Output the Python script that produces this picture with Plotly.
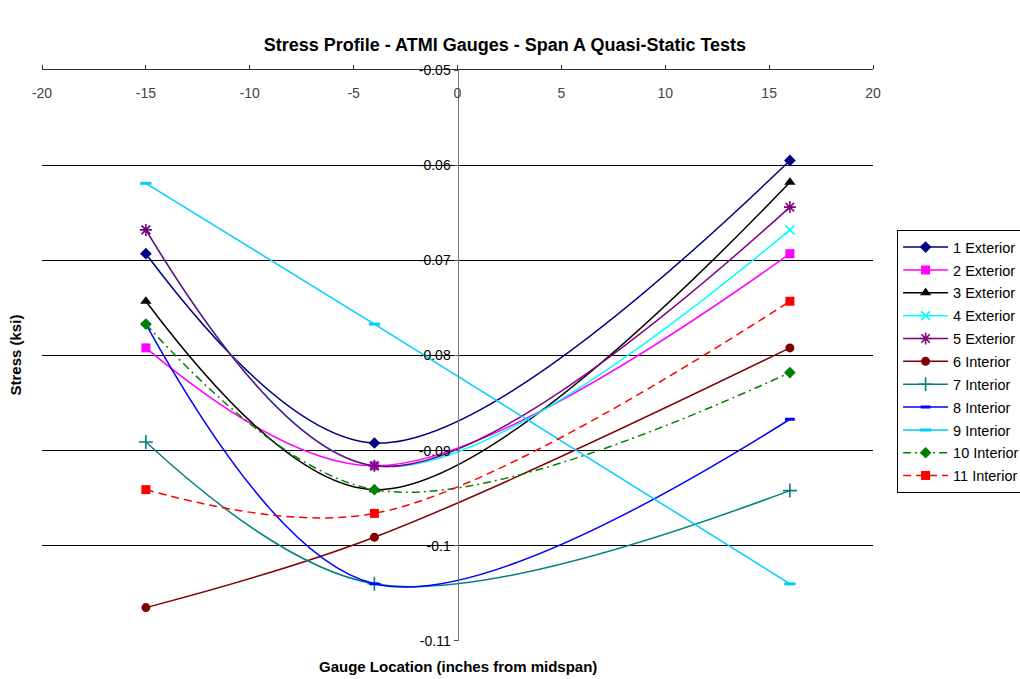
import plotly.graph_objects as go

x_pos = [-15, -4, 16]

names = ["1 Exterior", "2 Exterior", "3 Exterior", "4 Exterior", "5 Exterior",
         "6 Interior", "7 Interior", "8 Interior", "9 Interior", "10 Interior", "11 Interior"]

s1 = [-0.0693, -0.0892, -0.0595]
s2 = [-0.0792, -0.0916, -0.0693]
s3 = [-0.0743, -0.0941, -0.0618]
s4 = [-0.0668, -0.0916, -0.0668]
s5 = [-0.0668, -0.0916, -0.0644]
s6 = [-0.1065, -0.0991, -0.0792]
s7 = [-0.0891, -0.1040, -0.0942]
s8 = [-0.0767, -0.1040, -0.0867]
s9 = [-0.0619, -0.0767, -0.1040]
s10 = [-0.0767, -0.0941, -0.0818]
s11 = [-0.0941, -0.0966, -0.0743]

series = [s1, s2, s3, s4, s5, s6, s7, s8, s9, s10, s11]

x_ticks = [-20, -15, -10, -5, 0, 5, 10, 15, 20]
x_tick_text = ["-20", "-15", "-10", "-5", "0", "5", "10", "15", "20"]
y_ticks = [-0.11, -0.1, -0.09, -0.08, -0.07, -0.06, -0.05]
y_tick_text = ["-0.11", "-0.1", "-0.09", "-0.08", "-0.07", "-0.06", "-0.05"]

styles = [
    dict(color="#000080", symbol="diamond", size=9, dash="solid"),
    dict(color="#FF00FF", symbol="square", size=9, dash="solid"),
    dict(color="#000000", symbol="triangle-up", size=10, dash="solid"),
    dict(color="#00FFFF", symbol="x-thin", size=9, dash="solid"),
    dict(color="#800080", symbol="asterisk", size=10, dash="solid"),
    dict(color="#800000", symbol="circle", size=9, dash="solid"),
    dict(color="#008080", symbol="cross-thin", size=10, dash="solid"),
    dict(color="#0000FF", symbol="line-ew", size=7, dash="solid"),
    dict(color="#00CCFF", symbol="line-ew", size=8, dash="solid"),
    dict(color="#008000", symbol="diamond", size=9, dash="8px,4px,2px,4px"),
    dict(color="#FF0000", symbol="square", size=9, dash="8px,5px"),
]

fig = go.Figure()
for i, (nm, ys, st) in enumerate(zip(names, series, styles)):
    thin = st["symbol"] in ("x-thin", "asterisk", "cross-thin", "line-ew")
    marker = dict(symbol=st["symbol"], size=st["size"], color=st["color"])
    if thin:
        marker["line"] = dict(color=st["color"], width=3 if st["symbol"] == "line-ew" else 1.6)
    else:
        marker["line"] = dict(width=0)
    fig.add_trace(go.Scatter(
        x=x_pos, y=ys, name=nm, mode="lines+markers",
        line=dict(color=st["color"], width=1.5, shape="spline", smoothing=1, dash=st["dash"]),
        marker=marker, legendgroup=nm,
    ))

fig.update_layout(
    width=1020, height=679,
    margin=dict(l=42, r=147, t=70, b=38, autoexpand=False),
    paper_bgcolor="white", plot_bgcolor="white",
    font=dict(family="Liberation Sans, Arial, sans-serif", size=14, color="black"),
    title=dict(text="<b>Stress Profile - ATMI Gauges - Span A Quasi-Static Tests</b>",
               x=0.495, xanchor="center", y=1 - 45 / 679, yanchor="middle",
               font=dict(size=18)),
    showlegend=True,
    legend=dict(x=1.029, xanchor="left", y=0.7195, yanchor="top",
                bordercolor="black", borderwidth=1, bgcolor="white",
                font=dict(size=14.5), tracegroupgap=1, itemwidth=45),
    xaxis=dict(range=[-20, 20], tickvals=x_ticks, ticktext=x_tick_text, side="top",
               ticks="outside", ticklen=4, tickcolor="#333",
               ticklabelposition="inside", ticklabeloverflow="allow", ticklabelstandoff=18,
               showline=True, linecolor="#333", linewidth=1, showgrid=False, zeroline=False,
               tickfont=dict(size=14)),
    yaxis=dict(range=[-0.11001, -0.04999], tickvals=y_ticks, ticktext=y_tick_text,
               anchor="free", position=0.5, ticks="outside", ticklen=4, tickcolor="#555",
               ticklabeloverflow="allow",
               showline=True, linecolor="#777", linewidth=1,
               showgrid=True, gridcolor="black", gridwidth=1, zeroline=False,
               tickfont=dict(size=14)),
    annotations=[
        dict(text="<b>Gauge Location (inches from midspan)</b>", xref="paper", yref="paper",
             x=0.5, y=(641 - 666) / 571, xanchor="center", yanchor="middle",
             showarrow=False, font=dict(size=15)),
        dict(text="<b>Stress (ksi)</b>", xref="paper", yref="paper",
             x=(15 - 42) / 831, y=0.5, xanchor="center", yanchor="middle",
             textangle=-90, showarrow=False, font=dict(size=15)),
    ],
)

fig.write_html("out.html")
